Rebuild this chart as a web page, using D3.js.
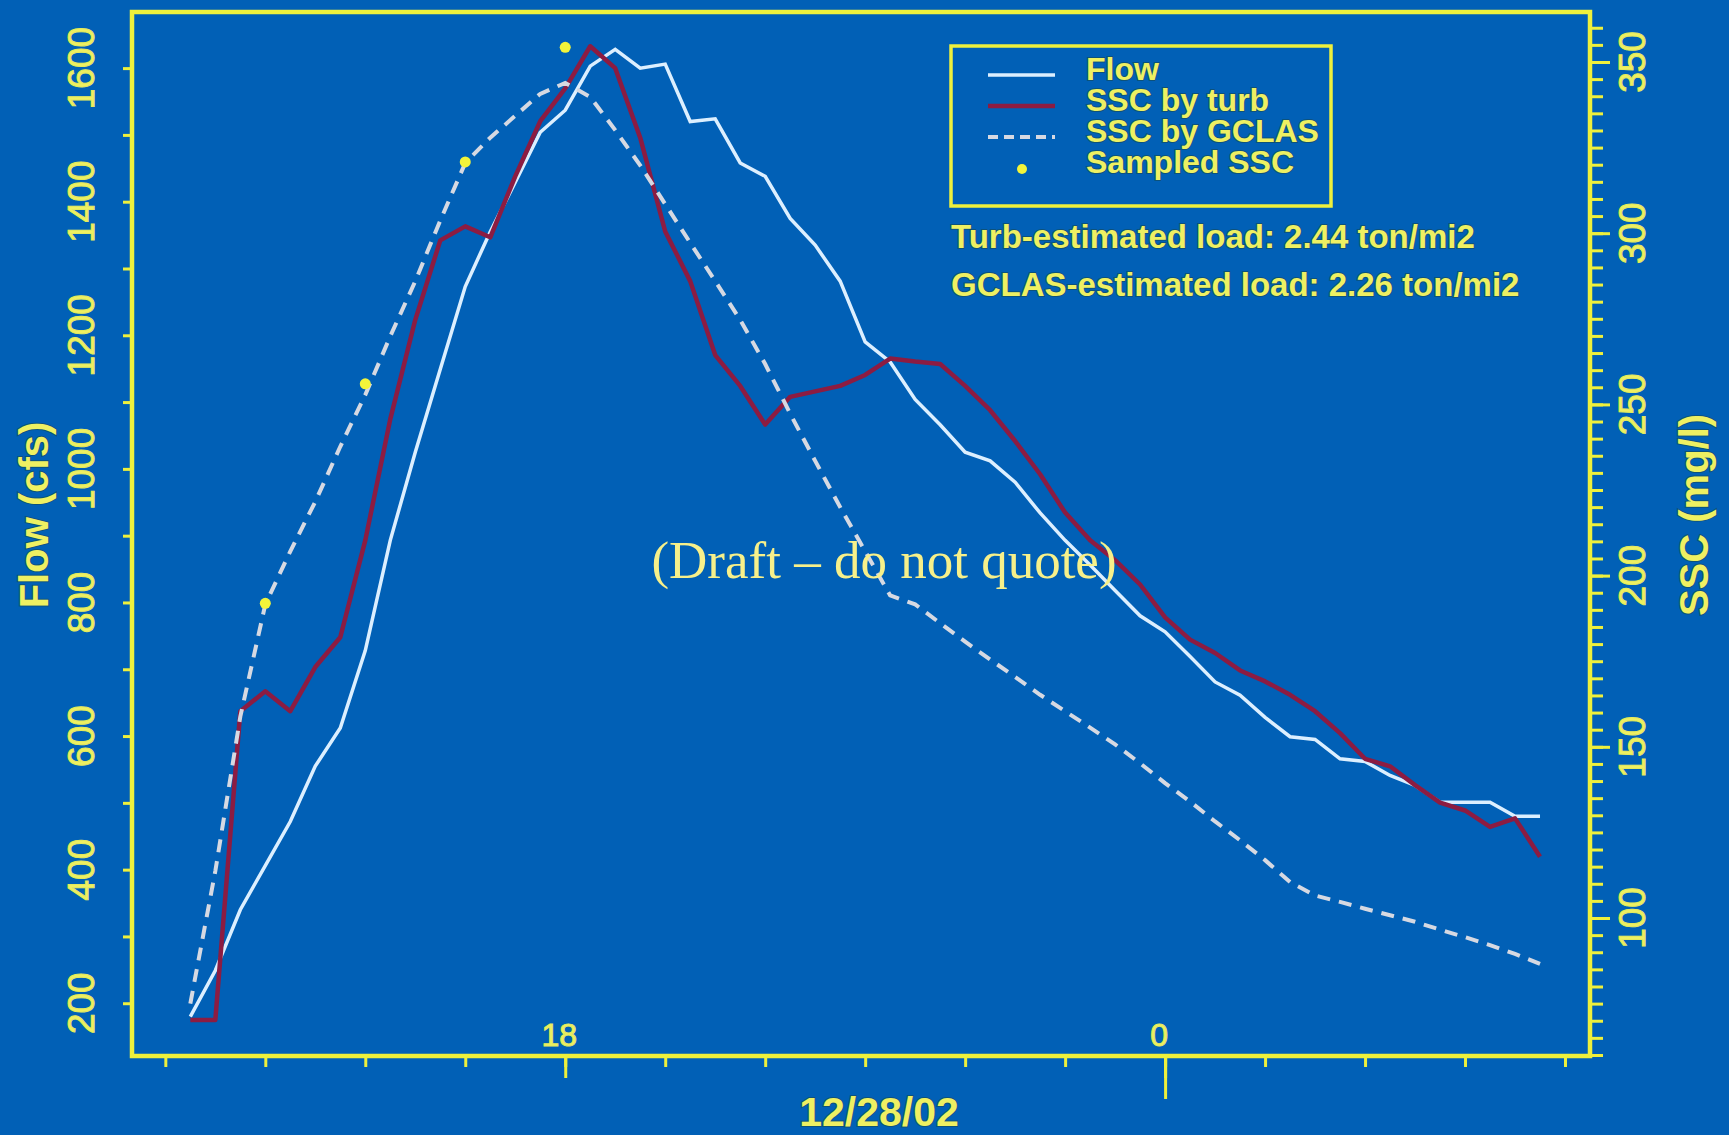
<!DOCTYPE html>
<html>
<head>
<meta charset="utf-8">
<script src="https://cdn.jsdelivr.net/npm/d3@7"></script>
<style>
  body { margin: 0; background: #0160b6; }
  svg { display: block; }
  .lbl { fill: #eef062; font-family: 'Liberation Sans', Arial, sans-serif; paint-order: stroke; stroke: rgba(25, 70, 70, 0.55); stroke-width: 2px; }
  .thick { stroke: #e4ea5c; stroke-width: 1px; paint-order: normal; }
  .tick line { stroke: #eef03c; stroke-width: 3px; }
</style>
</head>
<body>
<svg id="chart"></svg>
<script>
// readings every 15 minutes, starting 12/27/02 14:15
const firstReading = '2002-12-27 14:15';
const flowCfs = [180, 249, 340, 406, 472, 555, 612, 728, 893, 1025,
                 1149, 1273, 1355, 1429, 1504, 1537, 1603, 1628, 1600, 1606,
                 1520, 1524, 1458, 1438, 1375, 1335, 1281, 1190, 1160, 1104,
                 1066, 1025, 1012, 980, 934, 893, 856, 818, 780, 756,
                 719, 681, 661, 628, 599, 595, 566, 562, 541, 526,
                 501, 501, 501, 480, 480];
const sscTurb = [70.2, 70.2, 160.4, 166.2, 160.4, 173.3, 182.0, 210.3, 245.7, 274.7,
                 297.9, 302.0, 298.8, 316.6, 332.7, 342.3, 354.6, 348.2, 327.9, 300.5,
                 286.0, 264.4, 255.4, 244.1, 252.2, 253.8, 255.4, 258.6, 263.4, 262.5,
                 261.8, 255.4, 248.3, 239.3, 229.6, 218.4, 210.3, 204.5, 197.4, 187.8,
                 181.3, 177.4, 172.3, 169.1, 165.2, 160.4, 154.0, 146.5, 144.3, 138.8,
                 133.7, 131.4, 126.6, 129.1, 117.9];
const sscGclas = [75.0, 113.7, 158.8, 191.6, 207.1, 221.6, 237.7, 252.8, 269.9, 286.0,
                  303.7, 320.5, 327.9, 334.3, 340.7, 343.9, 339.8, 330.1, 319.8, 308.5,
                  297.2, 286.0, 274.7, 261.8, 247.3, 233.5, 220.0, 207.1, 194.2, 191.6,
                  186.1, 180.7, 175.5, 170.4, 165.2, 160.4, 155.6, 150.7, 145.2, 139.4,
                  134.0, 128.2, 122.7, 116.9, 110.5, 106.6, 104.7, 102.7, 100.8, 98.9,
                  96.6, 94.4, 92.1, 89.5, 86.6];
const sampleTimes = ['2002-12-27 15:00', '2002-12-27 16:00', '2002-12-27 17:00', '2002-12-27 18:00'];
const sampleSsc = [191.9, 256.0, 320.8, 354.3];

const timeDomain = ['2002-12-27 13:40', '2002-12-28 04:15'];
const flowDomain = [121, 1684];
const sscDomain = [59.7, 364.6];
const flowLabels = [200, 400, 600, 800, 1000, 1200, 1400, 1600];
const sscLabels = [100, 150, 200, 250, 300, 350];
const timeLabels = [['2002-12-27 18:00', '18'], ['2002-12-28 00:00', '0']];
const dateTitle = '12/28/02';
const legendItems = ['Flow', 'SSC by turb', 'SSC by GCLAS', 'Sampled SSC'];
const loadNotes = ['Turb-estimated load: 2.44 ton/mi2', 'GCLAS-estimated load: 2.26 ton/mi2'];

const parseTime = d3.timeParse('%Y-%m-%d %H:%M');

class FlowSscChart {
    /**
     * Class constructor with basic chart configuration
     */
    constructor(_config) {
        this.config = {
            parentElement: _config.parentElement,
            containerWidth: 1729,
            containerHeight: 1135,
            margin: {top: 12, right: 139, bottom: 79, left: 132},
            yellow: '#eef03c',
            flowColor: '#dcefff',
            turbColor: '#8c1c42',
            gclasColor: '#d6d9e2',
            sampleColor: '#f2f43a'
        };
        let start = parseTime(firstReading);
        this.data = flowCfs.map((f, i) => ({
            time: d3.timeMinute.offset(start, 15 * i),
            flow: f,
            turb: sscTurb[i],
            gclas: sscGclas[i]
        }));
        this.samples = sampleTimes.map((t, i) => ({time: parseTime(t), ssc: sampleSsc[i]}));
        this.initVis();
    }

    initVis() {
        let vis = this;
        const m = vis.config.margin;
        vis.width = vis.config.containerWidth - m.left - m.right;
        vis.height = vis.config.containerHeight - m.top - m.bottom;

        vis.xScale = d3.scaleTime()
            .domain(timeDomain.map(parseTime))
            .range([0, vis.width]);
        vis.yFlow = d3.scaleLinear().domain(flowDomain).range([vis.height, 0]);
        vis.ySsc = d3.scaleLinear().domain(sscDomain).range([vis.height, 0]);

        vis.svg = d3.select(vis.config.parentElement)
            .attr('width', vis.config.containerWidth)
            .attr('height', vis.config.containerHeight);

        vis.chart = vis.svg.append('g')
            .attr('transform', `translate(${m.left},${m.top})`);

        vis.updateVis();
    }

    updateVis() {
        let vis = this;
        vis.flowLine = d3.line().x(d => vis.xScale(d.time)).y(d => vis.yFlow(d.flow));
        vis.turbLine = d3.line().x(d => vis.xScale(d.time)).y(d => vis.ySsc(d.turb));
        vis.gclasLine = d3.line().x(d => vis.xScale(d.time)).y(d => vis.ySsc(d.gclas));
        vis.renderVis();
    }

    renderVis() {
        let vis = this;
        const cfg = vis.config;

        // Axes: ticks only, the frame is drawn separately
        const axisG = (axis, transform) => {
            const g = vis.chart.append('g').attr('transform', transform || null).call(axis);
            g.select('.domain').remove();
            return g;
        };
        axisG(d3.axisLeft(vis.yFlow).tickValues(d3.range(140, 1681, 20)).tickSize(2).tickFormat(''))
            .selectAll('line').style('stroke-width', '2px').style('opacity', 0.7);
        axisG(d3.axisLeft(vis.yFlow).tickValues(d3.range(200, 1601, 100)).tickSize(9).tickFormat(''));

        axisG(d3.axisRight(vis.ySsc).tickValues(d3.range(60, 361, 5)).tickSize(13).tickFormat(''),
            `translate(${vis.width},0)`);
        axisG(d3.axisRight(vis.ySsc).tickValues(sscLabels).tickSize(20).tickFormat(''),
            `translate(${vis.width},0)`);

        axisG(d3.axisBottom(vis.xScale).ticks(d3.timeHour.every(1)).tickSize(11).tickFormat(''),
            `translate(0,${vis.height})`);
        const labelTimes = timeLabels.map(d => parseTime(d[0]));
        axisG(d3.axisBottom(vis.xScale).tickValues(labelTimes).tickSize(22).tickFormat(''),
            `translate(0,${vis.height})`);
        axisG(d3.axisBottom(vis.xScale).tickValues([labelTimes[1]]).tickSize(43).tickFormat(''),
            `translate(0,${vis.height})`);

        // Frame
        vis.chart.append('rect')
            .attr('width', vis.width)
            .attr('height', vis.height)
            .attr('fill', 'none')
            .attr('stroke', cfg.yellow)
            .attr('stroke-width', 4.5);

        // Tick labels
        vis.chart.selectAll('.flow-label')
            .data(flowLabels)
            .join('text')
            .attr('class', 'lbl thick flow-label')
            .attr('transform', d => `translate(-51,${vis.yFlow(d)}) rotate(-90)`)
            .attr('text-anchor', 'middle')
            .attr('dy', '0.36em')
            .style('font-size', '37px')
            .text(d => d);

        vis.chart.selectAll('.ssc-label')
            .data(sscLabels)
            .join('text')
            .attr('class', 'lbl thick ssc-label')
            .attr('transform', d => `translate(${vis.width + 42},${vis.ySsc(d)}) rotate(-90)`)
            .attr('text-anchor', 'middle')
            .attr('dy', '0.36em')
            .style('font-size', '37px')
            .text(d => d);

        vis.chart.selectAll('.time-label')
            .data(timeLabels)
            .join('text')
            .attr('class', 'lbl thick time-label')
            .attr('x', d => vis.xScale(parseTime(d[0])) - 6)
            .attr('y', vis.height - 10)
            .attr('text-anchor', 'middle')
            .style('font-size', '32px')
            .text(d => d[1]);

        // Axis titles
        vis.svg.append('text')
            .attr('class', 'lbl')
            .attr('transform', 'translate(34,515) rotate(-90)')
            .attr('text-anchor', 'middle')
            .attr('dy', '0.36em')
            .style('font-size', '40px')
            .style('font-weight', 'bold')
            .text('Flow (cfs)');
        vis.svg.append('text')
            .attr('class', 'lbl')
            .attr('transform', 'translate(1694,515) rotate(-90)')
            .attr('text-anchor', 'middle')
            .attr('dy', '0.36em')
            .style('font-size', '40px')
            .style('font-weight', 'bold')
            .text('SSC (mg/l)');
        vis.svg.append('text')
            .attr('class', 'lbl')
            .attr('x', 879)
            .attr('y', 1126)
            .attr('text-anchor', 'middle')
            .style('font-size', '41px')
            .style('font-weight', 'bold')
            .text(dateTitle);

        // Series
        vis.chart.append('path')
            .datum(vis.data)
            .attr('d', vis.flowLine)
            .attr('fill', 'none')
            .attr('stroke', cfg.flowColor)
            .attr('stroke-width', 3.5);
        vis.chart.append('path')
            .datum(vis.data)
            .attr('d', vis.turbLine)
            .attr('fill', 'none')
            .attr('stroke', cfg.turbColor)
            .attr('stroke-width', 4.5)
            .attr('stroke-linejoin', 'round');
        vis.chart.append('path')
            .datum(vis.data)
            .attr('d', vis.gclasLine)
            .attr('fill', 'none')
            .attr('stroke', cfg.gclasColor)
            .attr('stroke-width', 4)
            .attr('stroke-dasharray', '13 9');
        vis.chart.selectAll('.sample')
            .data(vis.samples)
            .join('circle')
            .attr('class', 'sample')
            .attr('cx', d => vis.xScale(d.time))
            .attr('cy', d => vis.ySsc(d.ssc))
            .attr('r', 5.5)
            .attr('fill', cfg.sampleColor);

        // Legend
        const legend = vis.svg.append('g');
        legend.append('rect')
            .attr('x', 951).attr('y', 46)
            .attr('width', 380).attr('height', 160)
            .attr('fill', 'none')
            .attr('stroke', cfg.yellow)
            .attr('stroke-width', 3.5);
        const rowY = d3.scalePoint().domain(legendItems).range([80, 173]);
        const styles = [
            {stroke: cfg.flowColor, dash: null, width: 3.5},
            {stroke: cfg.turbColor, dash: null, width: 4.5},
            {stroke: cfg.gclasColor, dash: '10 6', width: 4}
        ];
        styles.forEach((s, i) => {
            legend.append('line')
                .attr('x1', 988).attr('x2', 1055)
                .attr('y1', rowY(legendItems[i]) - 5).attr('y2', rowY(legendItems[i]) - 5)
                .attr('stroke', s.stroke)
                .attr('stroke-width', s.width)
                .attr('stroke-dasharray', s.dash);
        });
        legend.append('circle')
            .attr('cx', 1022).attr('cy', rowY(legendItems[3]) - 4)
            .attr('r', 5)
            .attr('fill', cfg.sampleColor);
        legend.selectAll('.legend-text')
            .data(legendItems)
            .join('text')
            .attr('class', 'lbl legend-text')
            .attr('x', 1086)
            .attr('y', d => rowY(d))
            .style('font-size', '32px')
            .style('font-weight', 'bold')
            .text(d => d);

        vis.svg.selectAll('.load-note')
            .data(loadNotes)
            .join('text')
            .attr('class', 'lbl load-note')
            .attr('x', 951)
            .attr('y', (d, i) => 248 + i * 48)
            .style('font-size', '33px')
            .style('font-weight', 'bold')
            .text(d => d);

        // Draft watermark
        vis.svg.append('text')
            .attr('x', 884)
            .attr('y', 578)
            .attr('text-anchor', 'middle')
            .attr('fill', '#f7f08a')
            .style('font-family', "'Liberation Serif', 'Times New Roman', serif")
            .style('font-size', '53px')
            .text('(Draft \u2013 do not quote)');
    }
}

new FlowSscChart({parentElement: '#chart'});
</script>
</body>
</html>
